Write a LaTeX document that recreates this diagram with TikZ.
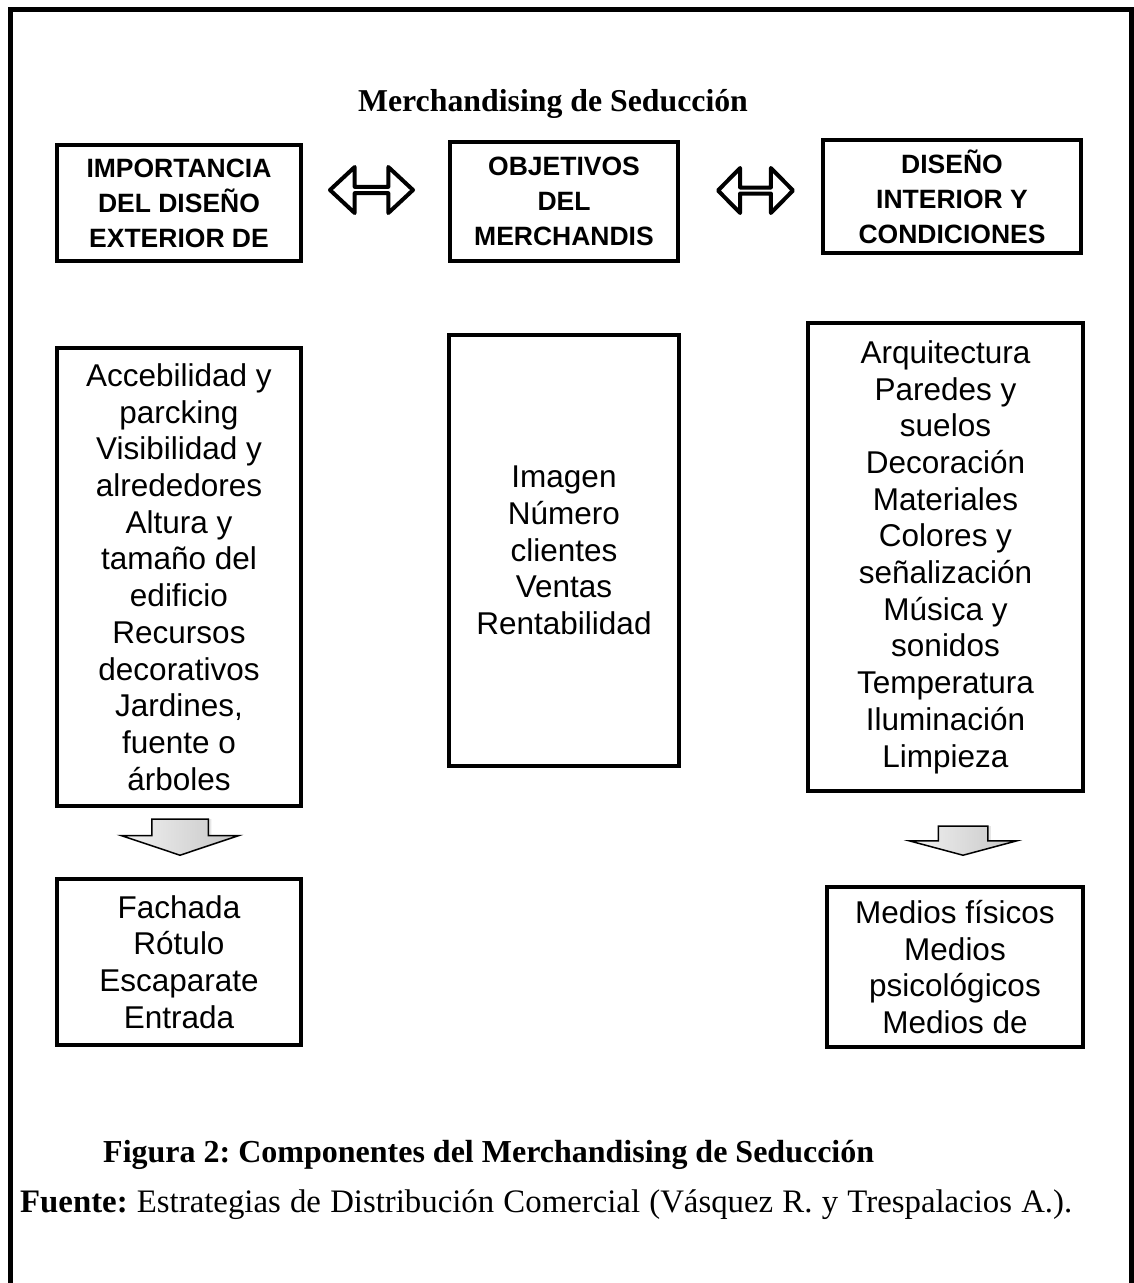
\documentclass[tikz,border=0pt]{standalone}
\usepackage{fontspec}
\setmainfont{Liberation Serif}
\setsansfont{Liberation Sans}
\usetikzlibrary{shapes.arrows,shadows}
\frenchspacing

\begin{document}
\begin{tikzpicture}[x=1pt,y=-1pt,
  box/.style={draw, line width=4.5pt, inner sep=0pt, align=center,
    font=\sffamily\fontsize{31.5}{36.7}\selectfont},
  head/.style={box, font=\sffamily\bfseries\fontsize{26.5}{35}\selectfont},
  both/.style={double arrow, draw, line width=4pt, line join=round, inner sep=0pt},
  down/.style={single arrow, draw, line width=1.5pt, inner xsep=0pt, rotate=-90,
    single arrow head indent=0pt, left color=gray!10, right color=gray!45,
    drop shadow={shadow xshift=3pt, shadow yshift=0pt, opacity=.2}},
  caption/.style={inner sep=0pt, anchor=base west, font=\fontsize{32}{38}\selectfont}]
\useasboundingbox (0,0) rectangle (1134,1283);
\draw[line width=5pt] (10.5,1283) -- (10.5,9) -- (1131.5,9) -- (1131.5,1283);

\node[inner sep=0pt, anchor=base, font=\bfseries\fontsize{31.8}{38}\selectfont] (titulo) at (553,111) {Merchandising de Seducción};

\node[head, minimum width=244pt, minimum height=116pt] (exterior) at (179,203) {IMPORTANCIA\\DEL DISEÑO\\EXTERIOR DE};
\node[head, minimum width=228pt, minimum height=119pt] (objetivos) at (564,201.5) {OBJETIVOS\\DEL\\MERCHANDIS};
\node[head, minimum width=258pt, minimum height=113pt] (interior) at (952,196.5) {DISEÑO\\INTERIOR Y\\CONDICIONES};

\node[both, minimum height=83pt, minimum width=46pt, double arrow head extend=12.5pt, double arrow tip angle=86] (flechaA) at (371.5,190) {};
\node[both, minimum height=75pt, minimum width=45pt, double arrow head extend=13pt, double arrow tip angle=91] (flechaB) at (755.5,190.5) {};

\node[box, minimum width=244pt, minimum height=458pt] (accesos) at (179,577) {Accebilidad y\\parcking\\Visibilidad y\\alrededores\\Altura y\\tamaño del\\edificio\\Recursos\\decorativos\\Jardines,\\fuente o\\árboles};
\node[box, minimum width=230pt, minimum height=431pt] (metas) at (564,550.5) {Imagen\\Número\\clientes\\Ventas\\Rentabilidad};
\node[box, minimum width=275pt, minimum height=468pt] (ambiente) at (945.5,557) {Arquitectura\\Paredes y\\suelos\\Decoración\\Materiales\\Colores y\\señalización\\Música y\\sonidos\\Temperatura\\Iluminación\\Limpieza};

\node[down, inner ysep=27.5pt, minimum height=36pt, single arrow head extend=30.5pt, single arrow tip angle=143, anchor=tip] (bajaA) at (180,856) {};
\node[down, inner ysep=24pt, minimum height=29pt, single arrow head extend=29pt, single arrow tip angle=150, anchor=tip] (bajaB) at (963,856) {};

\node[box, minimum width=244pt, minimum height=166pt] (fachada) at (179,962) {Fachada\\Rótulo\\Escaparate\\Entrada};
\node[box, minimum width=256pt, minimum height=160pt] (medios) at (955,967) {\raisebox{-4pt}{\parbox{250pt}{\centering Medios físicos\\Medios\\psicológicos\\Medios de}}};

\node[caption, font=\bfseries\fontsize{32}{38}\selectfont] (figura) at (103,1162) {Figura 2: Componentes del Merchandising de Seducción};
\node[caption, font=\fontsize{32.8}{38}\selectfont] (fuente) at (20,1212) {\makebox[1052pt][s]{\textbf{Fuente:} Estrategias de Distribución Comercial (Vásquez R. y Trespalacios A.).}};
\end{tikzpicture}
\end{document}
